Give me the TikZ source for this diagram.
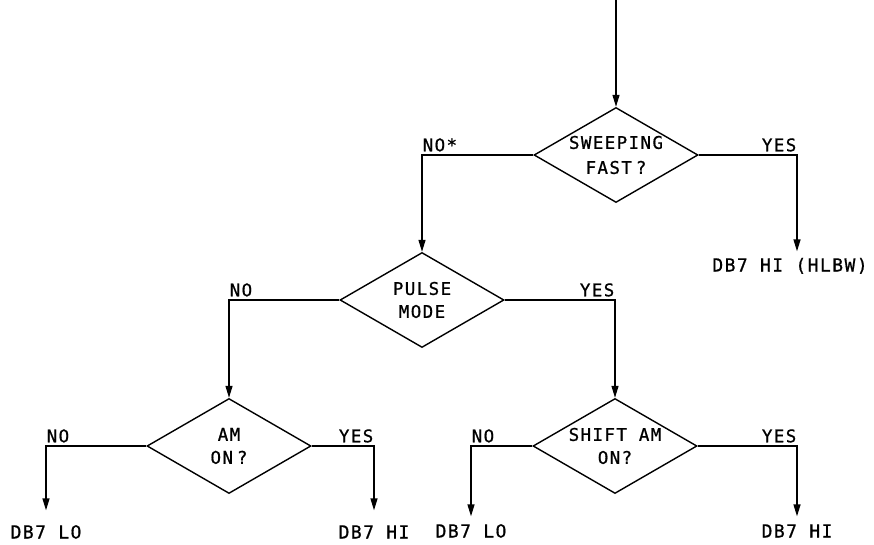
\documentclass[tikz,border=0pt]{standalone}
\usepackage{fontspec}
\setmonofont[LetterSpace=8,FakeBold=0.8]{DejaVu Sans Mono}
\usetikzlibrary{shapes.geometric,arrows.meta}

\begin{document}
\begin{tikzpicture}[x=1pt, y=-1pt,
    decision/.style={diamond, draw, line width=1.4pt, aspect=1.75, inner sep=0pt,
        minimum width=164pt, minimum height=95pt, align=center,
        font=\ttfamily\fontsize{17.5}{23}\selectfont},
    result/.style={font=\ttfamily\fontsize{18}{20}\selectfont, text height=13pt,
        text depth=0pt, inner xsep=0pt, inner ysep=9pt},
    answer/.style={font=\ttfamily\fontsize{17.5}{20}\selectfont, text height=12.7pt,
        text depth=0pt, inner xsep=0pt, inner ysep=3pt},
    flow/.style={-{Triangle[length=12pt,width=7pt]}, line width=1.4pt}
]
    \useasboundingbox (0,0) rectangle (874,545);

    % Decisions
    \coordinate (entry) at (616,0);
    \node[decision] (sweep) at (616,155) {SWEEPING\\[2pt]FAST\hspace{4pt}?};
    \node[decision] (pulse) at (422,300) {PULSE\\MODE};
    \node[decision] (amon) at (229,446) {AM\\ON\hspace{4pt}?};
    \node[decision] (shiftam) at (615,446) {SHIFT AM\\ON?};

    % Results
    \node[result, inner ysep=7pt] (hlbw) at (790,265) {DB7 HI (HLBW)};
    \node[result, inner ysep=15pt] (lo1) at (46,532) {DB7 LO};
    \node[result, inner ysep=15pt] (hi1) at (374,532) {DB7 HI};
    \node[result, inner ysep=8pt] (lo2) at (471,531) {DB7 LO};
    \node[result, inner ysep=8pt] (hi2) at (797,531) {DB7 HI};

    % Arrows
    \draw[flow] (entry) -- (sweep.north);
    \draw[flow] (sweep.west) -| node[answer, anchor=south west] {NO*} (pulse.north);
    \draw[flow] (sweep.east) -| node[answer, anchor=south east] {YES} ([xshift=7pt]hlbw.north);
    \draw[flow] (pulse.west) -| node[answer, anchor=south west] {NO} (amon.north);
    \draw[flow] (pulse.east) -| node[answer, anchor=south east] {YES} (shiftam.north);
    \draw[flow] (amon.west) -| node[answer, anchor=south west] {NO} (lo1.north);
    \draw[flow] (amon.east) -| node[answer, anchor=south east] {YES} (hi1.north);
    \draw[flow] (shiftam.west) -| node[answer, anchor=south west] {NO} (lo2.north);
    \draw[flow] (shiftam.east) -| node[answer, anchor=south east] {YES} (hi2.north);
\end{tikzpicture}
\end{document}
